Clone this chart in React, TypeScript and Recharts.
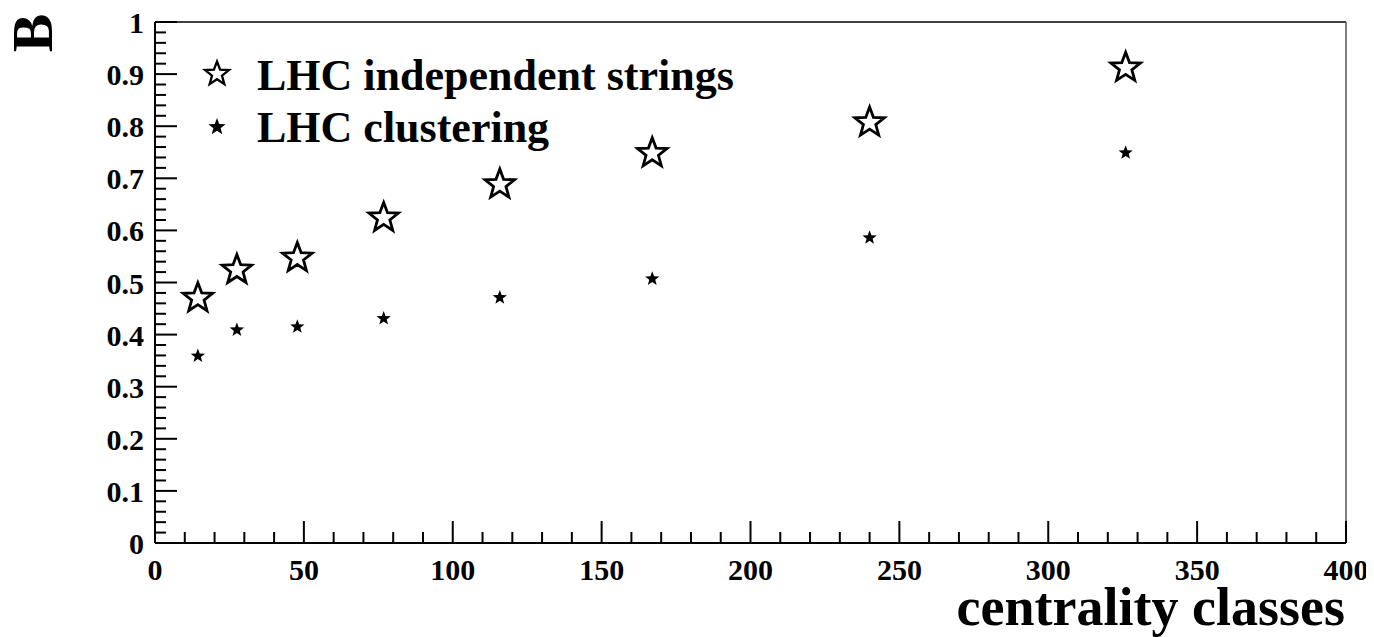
import React from 'react';
import { ScatterChart, Scatter, XAxis, YAxis, ReferenceLine } from 'recharts';

// centrality class positions (x) and B values
const centrality = [14.4, 27.5, 47.8, 76.8, 115.8, 167.0, 240.0, 326.0];
const independentStrings = [0.470, 0.524, 0.547, 0.624, 0.688, 0.748, 0.807, 0.912];
const clustering = [0.359, 0.409, 0.415, 0.431, 0.471, 0.507, 0.586, 0.749];

const xMajorTicks = [0, 50, 100, 150, 200, 250, 300, 350, 400];
const yMajorTicks = [0, 0.1, 0.2, 0.3, 0.4, 0.5, 0.6, 0.7, 0.8, 0.9, 1];
const xTicks = Array.from({ length: 41 }, (_, i) => i * 10);
const yTicks = Array.from({ length: 51 }, (_, i) => i / 50);

const seriesNames = ['LHC independent strings', 'LHC clustering'];

const openData = centrality.map((x, i) => ({ x, y: independentStrings[i] }));
const filledData = centrality.map((x, i) => ({ x, y: clustering[i] }));

const FONT = '"Liberation Serif", "Times New Roman", serif';
const W = 1374;
const H = 637;

const starPath = (cx: number, cy: number, R: number, ratio = 0.42) => {
  let d = '';
  for (let i = 0; i < 10; i++) {
    const a = ((-90 + i * 36) * Math.PI) / 180;
    const rad = i % 2 === 0 ? R : R * ratio;
    d += `${i === 0 ? 'M' : 'L'}${cx + rad * Math.cos(a)},${cy + rad * Math.sin(a)}`;
  }
  return d + 'Z';
};

const OpenStar = (props: any) => (
  <path d={starPath(props.cx, props.cy, 15.5)} fill="#fff" stroke="#000" strokeWidth={2.8} />
);
const FilledStar = (props: any) => <path d={starPath(props.cx, props.cy, 7.5)} fill="#000" />;

const XTick = (props: any) => {
  const { x, y, payload } = props;
  const major = xMajorTicks.includes(payload.value);
  return (
    <g>
      <line x1={x} x2={x} y1={y} y2={y - (major ? 22 : 11)} stroke="#000" strokeWidth={2} />
      {major && (
        <text x={x} y={y + 37} textAnchor="middle" fontFamily={FONT} fontWeight="bold" fontSize={30} fill="#000">
          {payload.value}
        </text>
      )}
    </g>
  );
};

const YTick = (props: any) => {
  const { x, y, payload } = props;
  const v = payload.value;
  const major = yMajorTicks.some((t) => Math.abs(t - v) < 1e-6);
  const label = v === 0 ? '0' : v === 1 ? '1' : v.toFixed(1);
  return (
    <g>
      <line x1={x} x2={x + (major ? 22 : 11)} y1={y} y2={y} stroke="#000" strokeWidth={2} />
      {major && (
        <text x={x - 11} y={y + 11} textAnchor="end" fontFamily={FONT} fontWeight="bold" fontSize={30} fill="#000">
          {label}
        </text>
      )}
    </g>
  );
};

export default function App() {
  return (
    <div style={{ position: 'relative', width: W, height: H, margin: '-8px 0 0 -8px' }}>
      <ScatterChart width={W} height={H} margin={{ top: 22, right: 28, bottom: 0, left: 0 }}>
        <XAxis
          type="number"
          dataKey="x"
          domain={[0, 400]}
          ticks={xTicks}
          interval={0}
          height={94}
          tickSize={0}
          tickMargin={0}
          tickLine={false}
          tick={<XTick />}
          axisLine={{ stroke: '#000', strokeWidth: 2 }}
        />
        <YAxis
          type="number"
          dataKey="y"
          domain={[0, 1]}
          ticks={yTicks}
          interval={0}
          width={155}
          tickSize={0}
          tickMargin={0}
          tickLine={false}
          tick={<YTick />}
          axisLine={{ stroke: '#000', strokeWidth: 2 }}
        />
        <ReferenceLine y={1} stroke="#000" strokeWidth={1.5} />
        <ReferenceLine x={400} stroke="#555" strokeWidth={1.5} />
        <Scatter name={seriesNames[0]} data={openData} shape={<OpenStar />} isAnimationActive={false} />
        <Scatter name={seriesNames[1]} data={filledData} shape={<FilledStar />} isAnimationActive={false} />
      </ScatterChart>
      <svg width={W} height={H} style={{ position: 'absolute', left: 0, top: 0, pointerEvents: 'none' }}>
        <path d={starPath(217, 74, 12.5)} fill="#fff" stroke="#000" strokeWidth={2.3} />
        <text x={257} y={90} fontFamily={FONT} fontWeight="bold" fontSize={44} fill="#000">
          {seriesNames[0]}
        </text>
        <path d={starPath(217, 127, 9)} fill="#000" />
        <text x={257} y={142} fontFamily={FONT} fontWeight="bold" fontSize={44} fill="#000">
          {seriesNames[1]}
        </text>
        <text x={1345} y={625} textAnchor="end" fontFamily={FONT} fontWeight="bold" fontSize={54} fill="#000">
          centrality classes
        </text>
        <text
          transform="translate(52,33) rotate(-90)"
          textAnchor="middle"
          fontFamily={FONT}
          fontWeight="bold"
          fontSize={58}
          fill="#000"
        >
          B
        </text>
      </svg>
    </div>
  );
}
